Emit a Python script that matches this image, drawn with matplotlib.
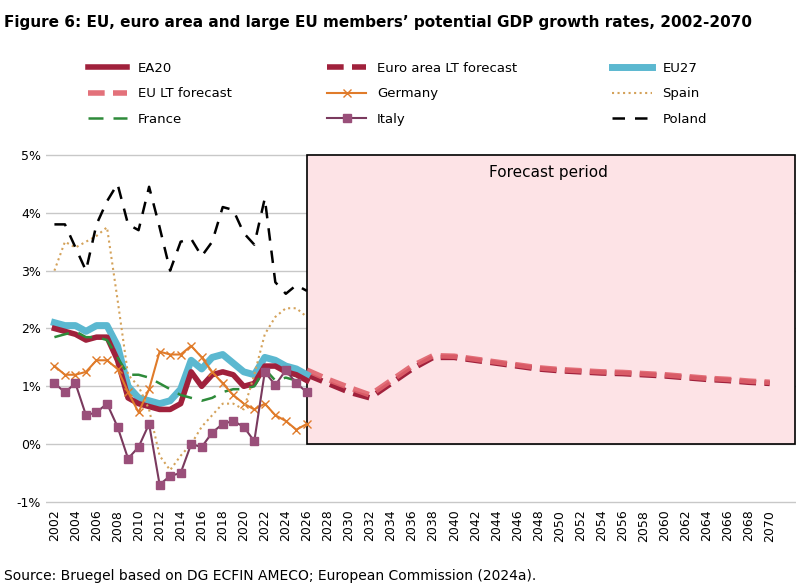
import matplotlib.pyplot as plt
from matplotlib.patches import Rectangle

years = list(range(2002, 2027))
ea20 = [2.0, 1.95, 1.9, 1.8, 1.85, 1.85, 1.45, 0.8, 0.7, 0.65, 0.6, 0.6, 0.7, 1.25, 1.0, 1.2,
        1.25, 1.2, 1.0, 1.05, 1.35, 1.35, 1.25, 1.2, 1.1]
eu27 = [2.1, 2.05, 2.05, 1.95, 2.05, 2.05, 1.7, 1.0, 0.8, 0.75, 0.7, 0.75, 0.95, 1.45, 1.3, 1.5,
        1.55, 1.4, 1.25, 1.2, 1.5, 1.45, 1.35, 1.3, 1.2]
germany = [1.35, 1.2, 1.2, 1.25, 1.45, 1.45, 1.3, 0.9, 0.55, 0.95, 1.6, 1.55, 1.55, 1.7, 1.5, 1.25,
           1.05, 0.85, 0.7, 0.6, 0.7, 0.5, 0.4, 0.25, 0.35]
spain = [3.0, 3.5, 3.4, 3.5, 3.6, 3.75, 2.5, 1.2, 1.0, 0.6, -0.2, -0.45, -0.2, 0.0, 0.3, 0.5,
         0.7, 0.7, 0.6, 1.2, 1.9, 2.2, 2.35, 2.35, 2.2]
france = [1.85, 1.9, 1.95, 1.85, 1.85, 1.8, 1.5, 1.2, 1.2, 1.15, 1.05, 0.95, 0.85, 0.8, 0.75, 0.8,
          0.9, 0.95, 0.95, 1.0, 1.3, 1.1, 1.15, 1.1, 1.0]
italy = [1.05, 0.9, 1.05, 0.5, 0.55, 0.7, 0.3, -0.25, -0.05, 0.35, -0.7, -0.55, -0.5, 0.0, -0.05, 0.2,
         0.35, 0.4, 0.3, 0.05, 1.25, 1.02, 1.28, 1.05, 0.9]
poland = [3.8, 3.8, 3.4, 3.0, 3.8, 4.2, 4.5, 3.8, 3.7, 4.45, 3.75, 3.0, 3.5, 3.55, 3.25, 3.5,
          4.1, 4.05, 3.65, 3.45, 4.25, 2.8, 2.6, 2.75, 2.65]

lt_years = list(range(2026, 2071, 2))
ea_lt = [1.2, 1.05, 0.9, 0.8, 1.05, 1.3, 1.5, 1.5, 1.45, 1.4, 1.35, 1.3, 1.27, 1.25,
         1.23, 1.22, 1.2, 1.18, 1.15, 1.12, 1.1, 1.07, 1.05]
eu_lt = [1.28, 1.12, 0.98, 0.85, 1.1, 1.35, 1.53, 1.52, 1.47, 1.42, 1.37, 1.32, 1.29, 1.27,
         1.25, 1.24, 1.22, 1.2, 1.17, 1.14, 1.12, 1.09, 1.07]

xticks = list(range(2002, 2071, 2))

fig = plt.figure(figsize=(8, 5.85), dpi=100)
ax = fig.add_axes([0.0575, 0.137, 0.9375, 0.603])

ax.add_patch(Rectangle((2026, 0), 46.4, 5, facecolor="#fde3e6", edgecolor="black", lw=1.2, zorder=1))
ax.text(2049, 4.7, "Forecast period", ha="center", va="center", fontsize=11, zorder=2)

h = {}
h["ea_lt"], = ax.plot(lt_years, ea_lt, color="#a0213c", lw=4, ls=(0, (3, 1.5)), zorder=3)
h["eu_lt"], = ax.plot(lt_years, eu_lt, color="#e0626c", lw=4, ls=(0, (3, 1.5)), zorder=3, alpha=0.9)
h["eu27"], = ax.plot(years, eu27, color="#5bb8d0", lw=5, zorder=3)
h["ea20"], = ax.plot(years, ea20, color="#a0213c", lw=4, zorder=4)
h["france"], = ax.plot(years, france, color="#2e8b3a", lw=1.8, ls=(0, (6, 4)), zorder=5)
h["germany"], = ax.plot(years, germany, color="#e07b2a", lw=1.5, marker="x", ms=6, zorder=5)
h["spain"], = ax.plot(years, spain, color="#d4a25a", lw=1.5, ls=":", zorder=5)
h["italy"], = ax.plot(years, italy, color="#7a3a5e", lw=1.5, marker="s", ms=6,
                      mfc="#9a4f7a", mec="#9a4f7a", zorder=5)
h["poland"], = ax.plot(years, poland, color="black", lw=1.8, ls=(0, (5, 4)), zorder=5)

ax.set_xlim(2001.2, 2072.5)
ax.set_ylim(-1.05, 5.05)
ax.set_yticks(range(-1, 6))
ax.set_yticklabels([f"{v}%" for v in range(-1, 6)], fontsize=9)
ax.set_xticks(xticks)
ax.set_xticklabels([str(y) for y in xticks], rotation=90, fontsize=9)
ax.grid(axis="y", color="#c8c8c8", lw=1, zorder=0)
ax.set_axisbelow(True)
for s in ax.spines.values():
    s.set_visible(False)
ax.tick_params(length=0)

order = [("ea20", "EA20"), ("eu_lt", "EU LT forecast"), ("france", "France"),
         ("ea_lt", "Euro area LT forecast"), ("germany", "Germany"), ("italy", "Italy"),
         ("eu27", "EU27"), ("spain", "Spain"), ("poland", "Poland")]
fig.legend([h[k] for k, _ in order], [l for _, l in order], ncol=3, frameon=False,
           loc="upper left", bbox_to_anchor=(0.095, 0.915), fontsize=9.5,
           columnspacing=7.2, handlelength=3, labelspacing=0.95)

fig.text(0.005, 0.975, "Figure 6: EU, euro area and large EU members\u2019 potential GDP growth rates, 2002-2070",
         fontsize=11, fontweight="bold", va="top")
fig.text(0.005, 0.003, "Source: Bruegel based on DG ECFIN AMECO; European Commission (2024a).",
         fontsize=10, va="bottom")

fig.savefig("out.png", dpi=100)
